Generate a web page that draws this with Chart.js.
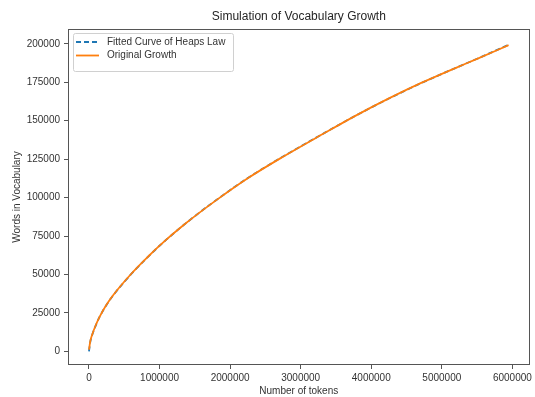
<!DOCTYPE html>
<html>
<head>
<meta charset="utf-8">
<script src="https://cdn.jsdelivr.net/npm/chart.js@4.4.1/dist/chart.umd.min.js"></script>
<style>
  html, body { margin: 0; padding: 0; background: #ffffff; }
  canvas { display: block; }
</style>
</head>
<body>
<canvas id="c" width="535" height="397"></canvas>
<script>
// Token counts at which the vocabulary size was sampled
const tokenCounts = [0, 20000, 50000, 100000, 150000, 250000, 350000, 600000, 850000, 1000000,
  1350000, 1800000, 2250000, 2750000, 3300000, 3800000, 4250000, 4700000, 5200000, 5500000, 5946000];

// Vocabulary size predicted by the fitted Heaps' law curve
const fittedVocab = [0, 6500, 11300, 17300, 22400, 30400, 36900, 50400, 62100, 68700,
  82500, 98300, 112700, 126700, 141100, 153800, 164400, 174300, 184400, 190300, 199300];

// Vocabulary size actually observed
const originalVocab = [1100, 7000, 11500, 17500, 22500, 30500, 37000, 50500, 62200, 68800,
  82500, 98200, 112600, 126600, 141000, 153800, 164500, 174400, 184400, 190200, 199100];

const seriesLabels = ['Fitted Curve of Heaps Law', 'Original Growth'];
const xTickValues = [0, 1000000, 2000000, 3000000, 4000000, 5000000, 6000000];
const yTickValues = [0, 25000, 50000, 75000, 100000, 125000, 150000, 175000, 200000];

const FONT = "'Liberation Sans', Arial, sans-serif";
const INK = '#333333';

const toPoints = (xs, ys) => xs.map((x, i) => ({ x: x, y: ys[i] }));

// Axes frame on all four sides of the plot area
const framePlugin = {
  id: 'frame',
  afterDraw(chart) {
    const { ctx, chartArea: a } = chart;
    ctx.save();
    ctx.strokeStyle = '#555555';
    ctx.lineWidth = 1;
    ctx.strokeRect(Math.round(a.left) + 0.5, Math.round(a.top) + 0.5,
      Math.round(a.right - a.left) - 1, Math.round(a.bottom - a.top) - 1);
    ctx.restore();
  }
};

// Title centred over the plot area
const titlePlugin = {
  id: 'plotTitle',
  afterDraw(chart) {
    const { ctx, chartArea: a } = chart;
    ctx.save();
    ctx.fillStyle = '#262626';
    ctx.font = '12px ' + FONT;
    ctx.textAlign = 'center';
    ctx.textBaseline = 'middle';
    ctx.fillText('Simulation of Vocabulary Growth', (a.left + a.right) / 2, 17);
    ctx.restore();
  }
};

// Boxed legend in the upper-left corner of the plot area
const boxLegendPlugin = {
  id: 'boxLegend',
  afterDraw(chart) {
    const { ctx, chartArea: a } = chart;
    const sets = chart.data.datasets;
    const x0 = a.left + 5, y0 = a.top + 4;
    const rowH = 13.5, w = 160, h = 11 + rowH * sets.length;
    ctx.save();
    ctx.fillStyle = 'rgba(255,255,255,0.8)';
    ctx.strokeStyle = '#d0d0d0';
    ctx.lineWidth = 1;
    ctx.beginPath();
    ctx.roundRect(x0 + 0.5, y0 + 0.5, w, h, 2);
    ctx.fill();
    ctx.stroke();
    ctx.font = '10px ' + FONT;
    ctx.textBaseline = 'middle';
    sets.forEach((ds, i) => {
      const cy = y0 + 9 + i * rowH;
      ctx.strokeStyle = ds.borderColor;
      ctx.lineWidth = ds.borderWidth;
      ctx.setLineDash(ds.borderDash || []);
      ctx.beginPath();
      ctx.moveTo(x0 + 3, cy);
      ctx.lineTo(x0 + 26, cy);
      ctx.stroke();
      ctx.setLineDash([]);
      ctx.fillStyle = INK;
      ctx.fillText(ds.label, x0 + 34, cy);
    });
    ctx.restore();
  }
};

const tickStyle = { color: '#555555', drawOnChartArea: false, drawTicks: true, tickLength: 4, lineWidth: 1 };

new Chart(document.getElementById('c'), {
  type: 'line',
  data: {
    datasets: [
      {
        label: seriesLabels[0],
        data: toPoints(tokenCounts, fittedVocab),
        borderColor: '#1f77b4',
        borderWidth: 1.8,
        borderDash: [5, 3],
        pointRadius: 0,
        cubicInterpolationMode: 'monotone',
        fill: false,
        order: 2
      },
      {
        label: seriesLabels[1],
        data: toPoints(tokenCounts, originalVocab),
        borderColor: '#ff7f0e',
        borderWidth: 1.8,
        pointRadius: 0,
        cubicInterpolationMode: 'monotone',
        fill: false,
        order: 1
      }
    ]
  },
  options: {
    responsive: false,
    animation: false,
    devicePixelRatio: 1,
    layout: { padding: { top: 29, right: 4, bottom: 0, left: 0 } },
    plugins: {
      legend: { display: false },
      title: { display: false },
      tooltip: { enabled: false }
    },
    scales: {
      x: {
        type: 'linear',
        min: -297300,
        max: 6243000,
        grid: tickStyle,
        border: { display: false },
        afterBuildTicks: (s) => { s.ticks = xTickValues.map(v => ({ value: v })); },
        afterFit: (s) => { s.height = 32; },
        ticks: {
          color: INK,
          font: { family: FONT, size: 10 },
          padding: 3,
          maxRotation: 0,
          callback: (v) => String(v)
        },
        title: {
          display: true,
          text: 'Number of tokens',
          color: INK,
          font: { family: FONT, size: 10 },
          padding: { top: 0, bottom: 0 }
        }
      },
      y: {
        type: 'linear',
        min: -8830,
        max: 209630,
        grid: tickStyle,
        border: { display: false },
        afterBuildTicks: (s) => { s.ticks = yTickValues.map(v => ({ value: v })); },
        afterFit: (s) => { s.width = 68; },
        ticks: {
          color: INK,
          font: { family: FONT, size: 10 },
          padding: 4,
          callback: (v) => String(v)
        },
        title: {
          display: true,
          text: 'Words in Vocabulary',
          color: INK,
          font: { family: FONT, size: 10 },
          padding: { top: 11, bottom: 0 }
        }
      }
    }
  },
  plugins: [framePlugin, titlePlugin, boxLegendPlugin]
});
</script>
</body>
</html>
